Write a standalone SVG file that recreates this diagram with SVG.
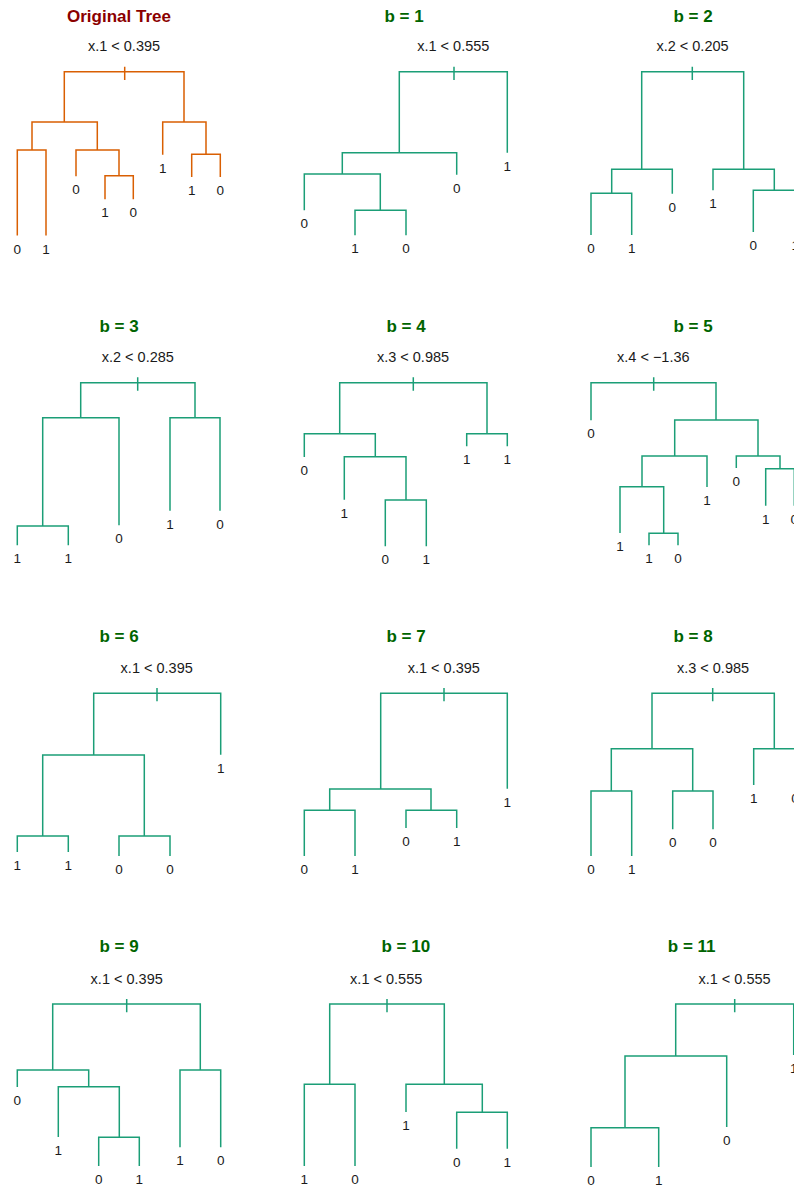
<svg xmlns="http://www.w3.org/2000/svg" width="794" height="1190" viewBox="0 0 794 1190">
<style>
.t{fill:none;stroke:#1b9e77;stroke-width:1.5}
.o{fill:none;stroke:#d95f02;stroke-width:1.5}
.ttl{font-family:"Liberation Sans",Arial,sans-serif;font-weight:bold;font-size:17px;fill:#006400;text-anchor:middle}
.ot{fill:#8b0000}
.sp{font-family:"Liberation Sans",Arial,sans-serif;font-size:14.5px;fill:#1a1a1a;text-anchor:middle}
.lf{font-family:"Liberation Sans",Arial,sans-serif;font-size:13.5px;fill:#1a1a1a;text-anchor:middle}
</style>
<rect width="794" height="1190" fill="#ffffff"/>

<g id="tree-original">
<text class="ttl ot" x="119" y="21.5">Original Tree</text>
<text class="sp" x="124" y="50.7">x.1 &lt; 0.395</text>
<g class="connectors"><path class="o" d="M64.3 122V71.7H184V122M124.7 66.7V80M32 150V122H97.3V150M17.3 235.5V150H46V235.5M76 176.3V150H119V175.7M105 199.3V175.7H133.3V199.3M162.7 154.7V122H206V154.7M191.7 177V154.3H220.3V177"/></g>
<g class="lf"><text x="17.3" y="253.5">0</text><text x="46" y="253.5">1</text><text x="76" y="194.3">0</text><text x="105" y="217.3">1</text><text x="133.3" y="217.3">0</text><text x="162.7" y="172.7">1</text><text x="191.7" y="195">1</text><text x="220.3" y="195">0</text></g>
</g>

<g id="tree-b1">
<text class="ttl" x="404" y="21.5">b = 1</text>
<text class="sp" x="453.3" y="50.7">x.1 &lt; 0.555</text>
<g class="connectors"><path class="t" d="M399.3 152.7V71.7H507.3V152.7M454 66.7V80M342.3 174V152.7H456.7V174.7M304.3 210.3V174H380.3V210.3M355 235.3V210.3H406V235.3"/></g>
<g class="lf"><text x="507.3" y="170.7">1</text><text x="456.7" y="192.7">0</text><text x="304.3" y="228.3">0</text><text x="355" y="253.3">1</text><text x="406" y="253.3">0</text></g>
</g>

<g id="tree-b2">
<text class="ttl" x="693" y="21.5">b = 2</text>
<text class="sp" x="692.5" y="50.7">x.2 &lt; 0.205</text>
<g class="connectors"><path class="t" d="M641.7 169.3V71.7H743.7V169.3M692.3 66.7V80M611.7 193.3V169.3H672.3V193.7M591 235V193.3H631.7V235M713 190.3V169.3H774.3V190.3M753.3 232V190.3H795.3V232"/></g>
<g class="lf"><text x="672.3" y="211.7">0</text><text x="591" y="253">0</text><text x="631.7" y="253">1</text><text x="713" y="208.3">1</text><text x="753.3" y="250">0</text><text x="795.3" y="250">1</text></g>
</g>

<g id="tree-b3">
<text class="ttl" x="119" y="331.5">b = 3</text>
<text class="sp" x="137.8" y="361.7">x.2 &lt; 0.285</text>
<g class="connectors"><path class="t" d="M80.7 417.7V382.7H195V417.7M137.7 377.3V390.7M42.7 526V417.7H119V525.3M17.3 545.3V526H68.3V545.3M170 510.7V417.7H220V510.7"/></g>
<g class="lf"><text x="119" y="543.3">0</text><text x="17.3" y="563.3">1</text><text x="68.3" y="563.3">1</text><text x="170" y="528.7">1</text><text x="220" y="528.7">0</text></g>
</g>

<g id="tree-b4">
<text class="ttl" x="406" y="331.5">b = 4</text>
<text class="sp" x="413" y="361.7">x.3 &lt; 0.985</text>
<g class="connectors"><path class="t" d="M339.7 433.7V382.7H487V433.7M413.3 377.3V390.7M304.3 457V433.7H375.3V456.7M344.3 499.7V456.7H406V500M385.3 546.3V500H426.3V546.3M466.7 446.3V433.7H507.3V446.3"/></g>
<g class="lf"><text x="304.3" y="475">0</text><text x="344.3" y="517.7">1</text><text x="385.3" y="564.3">0</text><text x="426.3" y="564.3">1</text><text x="466.7" y="464.3">1</text><text x="507.3" y="464.3">1</text></g>
</g>

<g id="tree-b5">
<text class="ttl" x="693" y="331.5">b = 5</text>
<text class="sp" x="653.3" y="361.7">x.4 &lt; −1.36</text>
<g class="connectors"><path class="t" d="M591 420.3V382.7H716V420M653.7 377.3V390.7M674.7 456V420H758V456M642 486.7V456H707V487M620 533V486.7H663.7V533.3M649 545.3V533.3H678V545.3M736.3 468V456H780V468.7M765.7 505.7V468.7H794.3V505.7"/></g>
<g class="lf"><text x="591" y="438.3">0</text><text x="707" y="505">1</text><text x="620" y="551">1</text><text x="649" y="563.3">1</text><text x="678" y="563.3">0</text><text x="736.3" y="486">0</text><text x="765.7" y="523.7">1</text><text x="794.3" y="523.7">0</text></g>
</g>

<g id="tree-b6">
<text class="ttl" x="119" y="641.5">b = 6</text>
<text class="sp" x="156.7" y="672.7">x.1 &lt; 0.395</text>
<g class="connectors"><path class="t" d="M93.7 755V693.3H220.7V754.7M157 688V701.3M42.7 836V755H144.3V836M17.3 852V836H68.3V852M119 856V836H170V856"/></g>
<g class="lf"><text x="220.7" y="772.7">1</text><text x="17.3" y="870">1</text><text x="68.3" y="870">1</text><text x="119" y="874">0</text><text x="170" y="874">0</text></g>
</g>

<g id="tree-b7">
<text class="ttl" x="406" y="641.5">b = 7</text>
<text class="sp" x="443.8" y="672.7">x.1 &lt; 0.395</text>
<g class="connectors"><path class="t" d="M380.7 789V693.3H507.3V788.7M444 688V701.3M329.7 810.3V789H431V810.3M304.3 856V810.3H355V856M406 828V810.3H456.7V828"/></g>
<g class="lf"><text x="507.3" y="806.7">1</text><text x="304.3" y="874">0</text><text x="355" y="874">1</text><text x="406" y="846">0</text><text x="456.7" y="846">1</text></g>
</g>

<g id="tree-b8">
<text class="ttl" x="693" y="641.5">b = 8</text>
<text class="sp" x="713" y="672.7">x.3 &lt; 0.985</text>
<g class="connectors"><path class="t" d="M652 748.7V693.3H774.3V748.7M712.7 688V701.3M611.3 791V748.7H692.7V791M591 856V791H631.7V856M672.7 829.3V791H713V829.3M753.7 785V748.7H795V785"/></g>
<g class="lf"><text x="591" y="874">0</text><text x="631.7" y="874">1</text><text x="672.7" y="847.3">0</text><text x="713" y="847.3">0</text><text x="753.7" y="803">1</text><text x="795" y="803">0</text></g>
</g>

<g id="tree-b9">
<text class="ttl" x="119" y="951.5">b = 9</text>
<text class="sp" x="126.7" y="984">x.1 &lt; 0.395</text>
<g class="connectors"><path class="t" d="M52.7 1070V1004H200.3V1070M126.7 999V1012.3M17.3 1087V1070H88.7V1086.7M58.3 1137V1086.7H119.3V1137.3M98.7 1166V1137.3H139.3V1166M180 1147.3V1070H220.7V1147.3"/></g>
<g class="lf"><text x="17.3" y="1105">0</text><text x="58.3" y="1155">1</text><text x="98.7" y="1184">0</text><text x="139.3" y="1184">1</text><text x="180" y="1165.3">1</text><text x="220.7" y="1165.3">0</text></g>
</g>

<g id="tree-b10">
<text class="ttl" x="405.8" y="951.5">b = 10</text>
<text class="sp" x="386.2" y="984">x.1 &lt; 0.555</text>
<g class="connectors"><path class="t" d="M329.7 1084.3V1004H444.3V1084.3M387 999V1012.3M304.3 1166V1084.3H355V1166M406 1112V1084.3H482.3V1112.3M456.7 1148.7V1112.3H507.3V1148.7"/></g>
<g class="lf"><text x="304.3" y="1184">1</text><text x="355" y="1184">0</text><text x="406" y="1130">1</text><text x="456.7" y="1166.7">0</text><text x="507.3" y="1166.7">1</text></g>
</g>

<g id="tree-b11">
<text class="ttl" x="691.7" y="951.5">b = 11</text>
<text class="sp" x="734.5" y="984">x.1 &lt; 0.555</text>
<g class="connectors"><path class="t" d="M675.7 1056V1004H793.7V1055M734.7 999V1012.3M625 1127.7V1056H726.7V1127M591 1167V1127.7H658.7V1167"/></g>
<g class="lf"><text x="726.7" y="1145">0</text><text x="591" y="1185">0</text><text x="658.7" y="1185">1</text><text x="793.7" y="1073">1</text></g>
</g>
</svg>
